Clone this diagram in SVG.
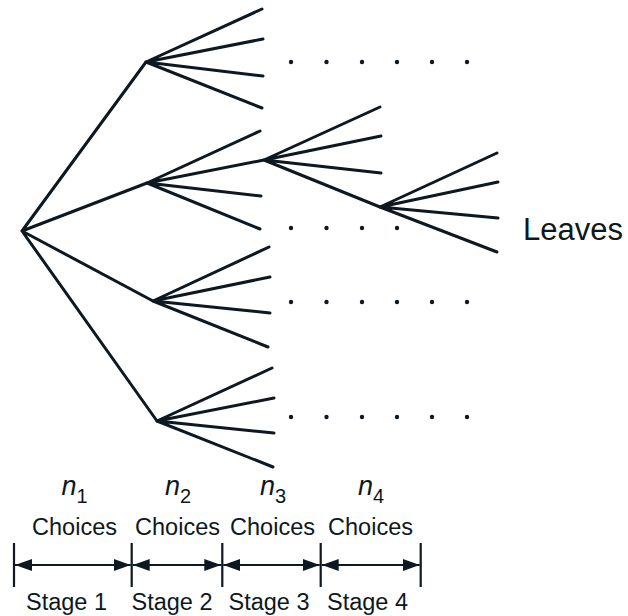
<svg xmlns="http://www.w3.org/2000/svg" width="628" height="616" viewBox="0 0 628 616">
<defs>
<style>
.e{stroke:#0d1820;stroke-width:3;stroke-linecap:round;fill:none}
.d{stroke:#0d1820;stroke-width:2.2;fill:none}
.dot{fill:#0d1820}
.t{font-family:"Liberation Sans",Arial,sans-serif;font-size:23.5px;fill:#0d1820;text-anchor:middle}
.n{font-style:italic;font-size:27px}
.s{font-size:20px}
</style>
<marker id="ah" viewBox="0 0 17 12" refX="17" refY="6" markerWidth="17" markerHeight="12" markerUnits="userSpaceOnUse" orient="auto-start-reverse">
<path d="M0,0 L17,6 L0,12 Z" fill="#0d1820"/>
</marker>
</defs>
<rect width="628" height="616" fill="#ffffff"/>
<g id="connectors">
<path class="e" d="M22,231 L146,62 M22,231 L147,183 M22,231 L153,301 M22,231 L157,421"/>
<path class="e" d="M146,62 L262,9 M146,62 L263,39 M146,62 L263,76 M146,62 L262,108"/>
<path class="e" d="M147,183 L260,131 M147,183 L264,160 M147,183 L261,196 M147,183 L260,229"/>
<path class="e" d="M264,160 L380,107 M264,160 L381,136 M264,160 L381,173 M264,160 L380,207"/>
<path class="e" d="M380,207 L497,153 M380,207 L498,182 M380,207 L498,218 M380,207 L497,252"/>
<path class="e" d="M153,301 L269,247 M153,301 L270,277 M153,301 L270,313 M153,301 L268,347"/>
<path class="e" d="M157,421 L272,368 M157,421 L274,398 M157,421 L274,433 M157,421 L273,467"/>
</g>
<g id="ellipses">
<g class="dot">
<circle cx="291" cy="62" r="2.2"/><circle cx="326.5" cy="62" r="2.2"/><circle cx="362" cy="62" r="2.2"/><circle cx="397" cy="62" r="2.2"/><circle cx="432" cy="62" r="2.2"/><circle cx="467" cy="62" r="2.2"/>
<circle cx="291" cy="228" r="2.2"/><circle cx="326.5" cy="228" r="2.2"/><circle cx="362" cy="228" r="2.2"/><circle cx="397" cy="228" r="2.2"/>
<circle cx="291" cy="302" r="2.2"/><circle cx="326.5" cy="302" r="2.2"/><circle cx="362" cy="302" r="2.2"/><circle cx="397" cy="302" r="2.2"/><circle cx="432" cy="302" r="2.2"/><circle cx="467" cy="302" r="2.2"/>
<circle cx="291" cy="417" r="2.2"/><circle cx="326.5" cy="417" r="2.2"/><circle cx="362" cy="417" r="2.2"/><circle cx="397" cy="417" r="2.2"/><circle cx="432" cy="417" r="2.2"/><circle cx="467" cy="417" r="2.2"/>
</g>
</g>
<g id="leaves-label"><text x="523" y="240" style="font-family:'Liberation Sans',Arial,sans-serif;font-size:31px;fill:#0d1820">Leaves</text></g>
<g id="stage1">
<text class="t" x="74.5" y="495"><tspan class="n">n</tspan><tspan class="s" dy="8">1</tspan></text>
<text class="t" x="74.5" y="535">Choices</text>
<text class="t" x="66.5" y="610">Stage 1</text>
</g>
<g id="stage2">
<text class="t" x="178" y="495"><tspan class="n">n</tspan><tspan class="s" dy="8">2</tspan></text>
<text class="t" x="177.5" y="535">Choices</text>
<text class="t" x="172" y="610">Stage 2</text>
</g>
<g id="stage3">
<text class="t" x="273" y="495"><tspan class="n">n</tspan><tspan class="s" dy="8">3</tspan></text>
<text class="t" x="272.5" y="535">Choices</text>
<text class="t" x="269" y="610">Stage 3</text>
</g>
<g id="stage4">
<text class="t" x="371" y="495"><tspan class="n">n</tspan><tspan class="s" dy="8">4</tspan></text>
<text class="t" x="370.5" y="535">Choices</text>
<text class="t" x="367.5" y="610">Stage 4</text>
</g>
<g id="dimensions">
<path class="d" d="M14,543 V587 M131.7,543 V587 M222.3,543 V587 M320.7,543 V587 M420.7,543 V587"/>
<path class="d" d="M15,565 H130.7" marker-start="url(#ah)" marker-end="url(#ah)"/>
<path class="d" d="M132.7,565 H221.3" marker-start="url(#ah)" marker-end="url(#ah)"/>
<path class="d" d="M223.3,565 H319.7" marker-start="url(#ah)" marker-end="url(#ah)"/>
<path class="d" d="M321.7,565 H419.7" marker-start="url(#ah)" marker-end="url(#ah)"/>
</g>
</svg>
